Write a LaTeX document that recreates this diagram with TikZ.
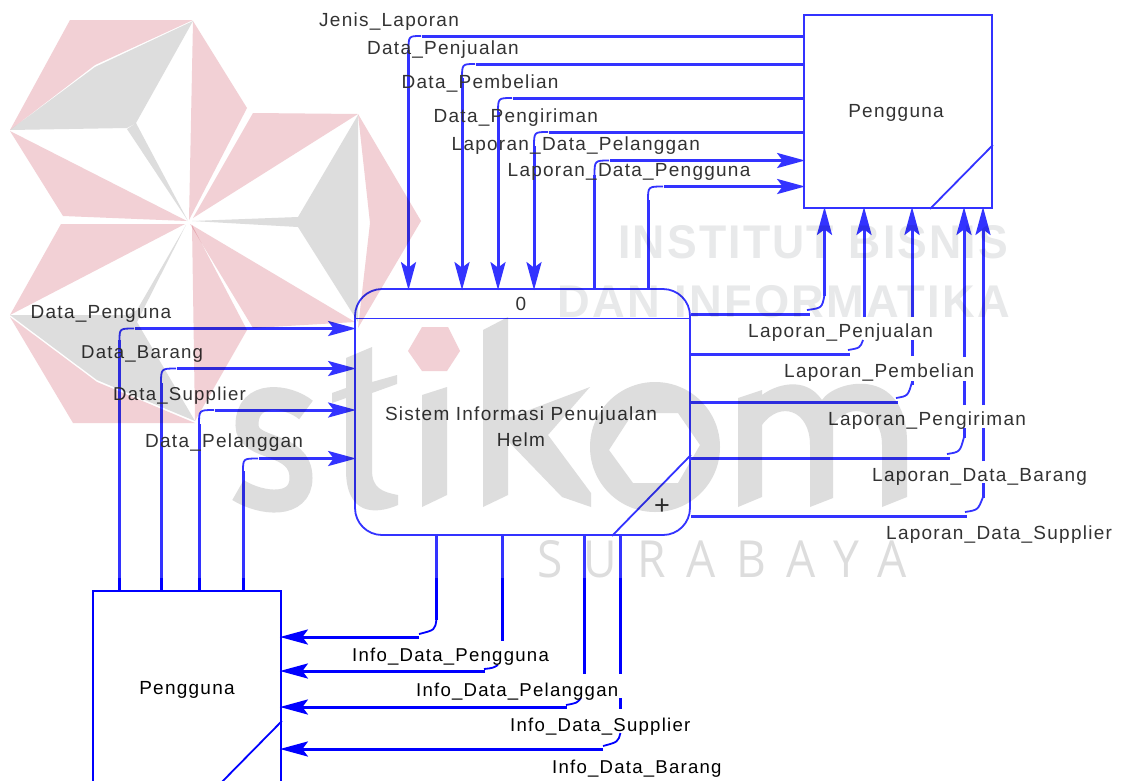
\documentclass[tikz,border=0pt]{standalone}
\usepackage{fontspec}
\usepackage{graphicx}
\setmainfont[LetterSpace=6.6]{Liberation Sans}
\newfontfamily\plainfont{Liberation Sans}
\newfontfamily\wmfont[LetterSpace=5]{Liberation Sans}
\newfontfamily\wmthin[LetterSpace=45]{Open Sans}
\usetikzlibrary{arrows.meta,calc}
\definecolor{flowblue}{RGB}{0,0,255}
\definecolor{wmgray}{RGB}{221,221,221}
\definecolor{wmpink}{RGB}{242,208,213}
\definecolor{wmtext}{RGB}{232,233,234}
\tikzset{
  flow/.style={draw=flowblue,line width=3pt},
  flowin/.style={flow,-{Stealth[length=28pt,width=15pt,inset=5.5pt,sep=-2pt]}},
  cornerarc/.style={draw=flowblue,line width=1.8pt},
  boxedge/.style={draw=flowblue,line width=1.8pt},
  entity/.style={boxedge,minimum width=188pt,minimum height=193pt,inner sep=0pt},
  procbox/.style={boxedge,rounded corners=27pt,minimum width=335pt,minimum height=246pt,inner sep=0pt},
  lbl/.style={anchor=base west,inner sep=0pt,font=\fontsize{19}{24}\selectfont},
  lblnarrow/.style={lbl,font=\fontsize{18.6}{24}\selectfont},
  mid/.style={anchor=center,inner sep=0pt,align=center,font=\fontsize{19}{26}\selectfont}
}
\begin{document}
\begin{tikzpicture}[x=1pt,y=-1pt]
\useasboundingbox (0,0) rectangle (1121,780);
\clip (0,0) rectangle (1121,780);
\fill[white] (0,0) rectangle (1121,780);

% nodes
\node[entity] (u1) at (898,111.5) {};
\node[entity] (u2) at (187,687.5) {};
\node[procbox] (proc) at (522.5,412) {};
\node[mid] (u1text) at (896,113) {Pengguna};
\node[mid] (u2text) at (187,690) {Pengguna};
\node[mid] (procid) at (521,304) {0};
\node[mid] (proctext) at (521,427) {Sistem Informasi Penujualan\\Helm};
\node[mid,font=\plainfont\fontsize{27}{27}\selectfont] (plus) at (662,507) {+};

% internals of the shapes
\draw[boxedge] (proc.west |- 0,318.5) -- (proc.east |- 0,318.5);
\draw[boxedge] (proc.east |- 0,455) -- (612,0 |- proc.south);
\draw[boxedge] (u1.east |- 0,145) -- (930,0 |- u1.south);
\draw[boxedge] (u2.east |- 0,721) -- (219,0 |- u2.south);

% Pengguna (top) -> process
\draw[flowin] (u1.west |- 0,36) -- (422,36) (408.5,50) -- (408.5,0 |- proc.north);
\draw[cornerarc] (421,36) .. controls (408.5,36) .. (408.5,51);
\draw[flowin] (u1.west |- 0,64) -- (476,64) (462,78) -- (462,0 |- proc.north);
\draw[cornerarc] (475,64) .. controls (462,64) .. (462,79);
\draw[flowin] (u1.west |- 0,98) -- (513,98) (498,112) -- (498,0 |- proc.north);
\draw[cornerarc] (512,98) .. controls (498,98) .. (498,113);
\draw[flowin] (u1.west |- 0,132) -- (549,132) (534,146) -- (534,0 |- proc.north);
\draw[cornerarc] (548,132) .. controls (534,132) .. (534,147);

% process -> Pengguna (top)
\draw[flowin] (594.5,0 |- proc.north) -- (594.5,175) (610,160.5) -- (u1.west |- 0,160.5);
\draw[cornerarc] (594.5,176) .. controls (594.5,160.5) .. (609,160.5);
\draw[flowin] (648,0 |- proc.north) -- (648,200) (664,186.5) -- (u1.west |- 0,186.5);
\draw[cornerarc] (648,201) .. controls (648,186.5) .. (663,186.5);

\draw[flow] (proc.east |- 0,314) -- (810,314);
\draw[flowin] (824.5,296) -- (824.5,0 |- u1.south);
\draw[cornerarc] (807,310) .. controls (822,308) .. (824.5,295);

\draw[flow] (proc.east |- 0,354) -- (850,354);
\draw[flowin] (864,317) -- (864,0 |- u1.south);
\draw[cornerarc] (848,350) .. controls (860,348) .. (863,340);

\draw[flow] (proc.east |- 0,402) -- (898,402);
\draw[flow] (912,356) -- (912,340);
\draw[flowin] (912,317) -- (912,0 |- u1.south);
\draw[flow] (912,381) -- (912,385);
\draw[cornerarc] (896,398) .. controls (908,396) .. (912,382);

\draw[flow] (proc.east |- 0,458) -- (950,458);
\draw[flow] (964,438) -- (964,428) (964,405) -- (964,381);
\draw[flowin] (964,357) -- (964,0 |- u1.south);
\draw[cornerarc] (947,454) .. controls (960,452) .. (964,437);

\draw[flow] (proc.east |- 0,516) -- (967,516);
\draw[flow] (983,498) -- (983,483) (983,461) -- (983,428);
\draw[flowin] (983,405) -- (983,0 |- u1.south);
\draw[cornerarc] (965,512) .. controls (978,510) .. (983,497);

% Pengguna (bottom) -> process
\draw[flowin] (119.5,0 |- u2.north) -- (119.5,340) (135,328.5) -- (proc.west |- 0,328.5);
\draw[cornerarc] (119.5,341) .. controls (119.5,328.5) .. (134,328.5);
\draw[flowin] (161,0 |- u2.north) -- (161,383) (177,368.5) -- (proc.west |- 0,368.5);
\draw[cornerarc] (161,384) .. controls (161,368.5) .. (176,368.5);
\draw[flowin] (199,0 |- u2.north) -- (199,424) (215,410) -- (proc.west |- 0,410);
\draw[cornerarc] (199,425) .. controls (199,410) .. (214,410);
\draw[flowin] (243,0 |- u2.north) -- (243,471) (259,458.5) -- (proc.west |- 0,458.5);
\draw[cornerarc] (243,472) .. controls (243,458.5) .. (258,458.5);

% process -> Pengguna (bottom)
\draw[flow] (436.5,0 |- proc.south) -- (436.5,620);
\draw[flowin] (419,637) -- (u2.east |- 0,637);
\draw[cornerarc] (436.5,619) .. controls (435,630) .. (419,634);
\draw[flow] (502,0 |- proc.south) -- (502,641);
\draw[flowin] (485,671) -- (u2.east |- 0,671);
\draw[cornerarc] (498,665) .. controls (493,668) .. (484,669);
\draw[flow] (584,0 |- proc.south) -- (584,674);
\draw[flowin] (567,707) -- (u2.east |- 0,707);
\draw[cornerarc] (581,698) .. controls (577,703) .. (566,705);
\draw[flow] (620.4,0 |- proc.south) -- (620.4,674) (620.4,698) -- (620.4,709);
\draw[flowin] (603,749) -- (u2.east |- 0,749);
\draw[cornerarc] (620.4,733) .. controls (618,742) .. (603,746);

% labels
\node[lbl] (l1) at (319,26) {Jenis\_Laporan};
\node[lbl] (l2) at (367,54) {Data\_Penjualan};
\node[lbl] (l3) at (401.5,88) {Data\_Pembelian};
\node[lbl] (l4) at (433.5,122) {Data\_Pengiriman};
\node[lbl] (l5) at (451.5,150) {Laporan\_Data\_Pelanggan};
\node[lbl] (l6) at (507.5,176) {Laporan\_Data\_Pengguna};
\node[lbl] (l7) at (30.5,318) {Data\_Penguna};
\node[lblnarrow] (l8) at (81,358) {Data\_Barang};
\node[lblnarrow] (l9) at (113,400) {Data\_Supplier};
\node[lbl] (l10) at (145,447) {Data\_Pelanggan};
\node[lbl] (l11) at (748,337) {Laporan\_Penjualan};
\node[lbl] (l12) at (784,377) {Laporan\_Pembelian};
\node[lbl] (l13) at (828,425) {Laporan\_Pengiriman};
\node[lbl] (l14) at (872,481) {Laporan\_Data\_Barang};
\node[lbl] (l15) at (886,539) {Laporan\_Data\_Supplier};
\node[lblnarrow] (l16) at (352,661) {Info\_Data\_Pengguna};
\node[lblnarrow] (l17) at (416,696) {Info\_Data\_Pelanggan};
\node[lblnarrow] (l18) at (510,731) {Info\_Data\_Supplier};
\node[lblnarrow] (l19) at (552,773) {Info\_Data\_Barang};

% veil of the watermark image
\fill[white,opacity=0.2] (0,0) rectangle (1121,578);

% watermark
\begin{scope}[blend mode=multiply]
  % star of three kites
  \fill[wmpink] (10,130) -- (70,20) -- (193,20) -- (95,65) -- cycle;
  \fill[wmgray] (10,130) -- (95,67) -- (193,21) -- (136,123) -- (127,128) -- cycle;
  \fill[wmgray] (127,129) -- (136,123) -- (188,221) -- cycle;
  \fill[wmpink] (10,131) -- (63,216) -- (187,221) -- cycle;
  \fill[wmpink] (193,21) -- (247,108) -- (189,220) -- cycle;
  \fill[wmpink] (193,218) -- (253,113) -- (358,114) -- cycle;
  \fill[wmgray] (358,115) -- (358,322) -- (298,227) -- (192,221) -- (298,217) -- cycle;
  \fill[wmpink] (358,114) -- (421,221) -- (358,328) -- (370,223) -- cycle;
  \fill[wmpink] (190,224) -- (355,322) -- (253,328) -- cycle;
  \fill[wmpink] (185,224) -- (61,224) -- (10,315) -- cycle;
  \fill[wmgray] (10,315) -- (127,315) -- (137,310) -- (186,225) -- (137,322) -- (195,421) -- (97,380) -- cycle;
  \fill[wmpink] (10,317) -- (73,423) -- (195,423) -- (97,382) -- cycle;
  \fill[wmpink] (192,225) -- (247,330) -- (195,421) -- cycle;
  % stikom
  \fill[wmpink] (408,351) -- (422,327) -- (448,327) -- (460,351) -- (447,371) -- (422,371) -- cycle;
  \draw[wmgray,line width=23pt] (306,410) .. controls (288,395) and (247,390) .. (247,425) .. controls (247,452) and (301,440) .. (301,478) .. controls (301,508) and (262,505) .. (238,490);
  \fill[wmgray] (346,358) -- (372,347) -- (372,382) -- (397,375) -- (397,384) -- (372,393) -- (372,470) .. controls (372,488) and (382,492) .. (398,495) -- (398,505) .. controls (375,515) and (346,515) .. (346,470) -- (346,398) -- (332,403) -- (332,393) -- (346,388) -- cycle;
  \fill[wmgray] (422,395) -- (447,387) -- (447,495) -- (422,507) -- cycle;
  \fill[wmgray] (483,330) -- (508,317) -- (508,418) -- (590,387) -- (548,435) -- (591,493) -- (591,507) -- (562,497) -- (508,441) -- (508,495) -- (483,507) -- cycle;
  \fill[wmgray,even odd rule] (655,447) ellipse [x radius=65pt,y radius=65pt] (609,450) -- (633,413) -- (678,413) -- (700,445) -- (678,483) -- (633,483) -- cycle;
  \fill[wmgray] (738,507) -- (738,398) -- (762,390) -- (762,395) .. controls (775,385) and (805,375) .. (822,400) .. controls (835,380) and (905,365) .. (907,440) -- (907,497) -- (882,507) -- (882,445) .. controls (882,410) and (850,400) .. (833,425) -- (833,498) -- (810,507) -- (810,445) .. controls (810,410) and (780,400) .. (762,425) -- (762,497) -- cycle;
  % words
  \node[anchor=north west,inner sep=0pt,text=wmtext] (w1) at (618,225) {\resizebox{390pt}{33pt}{\wmfont\bfseries INSTITUT BISNIS}};
  \node[anchor=north west,inner sep=0pt,text=wmtext] (w2) at (557,285) {\resizebox{453pt}{32pt}{\wmfont\bfseries DAN INFORMATIKA}};
  \node[anchor=north west,inner sep=0pt,text=wmgray] (w3) at (537,540) {\resizebox{369pt}{37pt}{\wmthin SURABAYA}};
\end{scope}
\end{tikzpicture}
\end{document}
